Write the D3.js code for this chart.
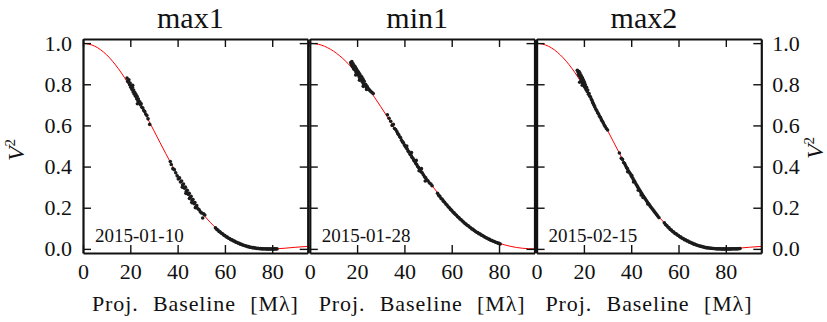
<!DOCTYPE html>
<html>
<head>
<meta charset="utf-8">
<script src="https://cdn.jsdelivr.net/npm/d3@7"></script>
<style>
  body { margin: 0; background: #fff; }
  svg text, svg tspan { font-family: "Liberation Serif", "Times New Roman", Tinos, Times, serif !important; }
</style>
</head>
<body>
<div class="container"></div>
<script>
// panel names and observation dates
let panelNames = ['max1', 'min1', 'max2'];
let obsDates = ['2015-01-10', '2015-01-28', '2015-02-15'];

let xTicks = [0, 20, 40, 60, 80];
let yTicks = [0.0, 0.2, 0.4, 0.6, 0.8, 1.0];

// model curves (red), read every 5 Mλ
let modelBaseline = [0, 5, 10, 15, 20, 25, 30, 35, 40, 45, 50, 55, 60, 65, 70, 75, 80, 85, 90, 95];
let modelMax1 = [1.0, 0.985, 0.943, 0.875, 0.787, 0.684, 0.574, 0.463, 0.357, 0.262, 0.180, 0.115, 0.065, 0.032, 0.011, 0.002, 0.000, 0.003, 0.008, 0.012];
let modelMin1 = [1.0, 0.990, 0.961, 0.914, 0.851, 0.776, 0.691, 0.602, 0.510, 0.420, 0.335, 0.258, 0.190, 0.133, 0.088, 0.053, 0.028, 0.012, 0.003, 0.000];
let modelMax2 = [1.0, 0.985, 0.943, 0.876, 0.788, 0.686, 0.576, 0.465, 0.358, 0.262, 0.180, 0.115, 0.065, 0.032, 0.011, 0.002, 0.000, 0.003, 0.008, 0.012];

// measured V^2 points [baseline, V2]
let obsMax1 = [
  [18.6,0.83],[18.9,0.815],[19.2,0.81],[19.4,0.822],[19.7,0.798],[19.9,0.806],[20.2,0.785],[20.4,0.795],
  [20.7,0.775],[20.9,0.785],[21.2,0.762],[21.4,0.772],[21.7,0.752],[21.9,0.76],[22.2,0.742],[22.4,0.75],
  [22.7,0.73],[22.9,0.74],[23.2,0.72],[23.4,0.728],[23.7,0.71],[24.0,0.715],[24.3,0.7],[24.6,0.705],
  [24.9,0.688],[25.3,0.685],[25.7,0.672],[26.1,0.668],[26.5,0.655],[27.0,0.648],[27.5,0.632],[28.2,0.605],
  [23.0,0.705],[21.0,0.795],
  [36.9,0.425],[37.3,0.41],[38.0,0.39],[38.6,0.385],[39.2,0.37],[39.8,0.355],[40.3,0.34],[40.8,0.345],
  [41.2,0.325],[41.7,0.33],[42.1,0.31],[42.5,0.315],[42.9,0.295],[43.3,0.30],[43.7,0.28],[44.1,0.285],
  [44.5,0.265],[44.9,0.27],[45.3,0.25],[45.7,0.255],[46.1,0.235],[46.5,0.24],[46.9,0.22],[47.3,0.225],
  [47.7,0.205],[48.1,0.21],[48.6,0.195],[49.1,0.19],[49.6,0.18],[50.1,0.175],[50.6,0.15],[51.0,0.17],
  [51.5,0.165],[44.0,0.27],[45.0,0.245],[42.0,0.30],[43.5,0.27],[46.0,0.225],[47.5,0.20],
  [56,0.103],[56.5,0.095],[57,0.092],[57.5,0.085],[58,0.082],[58.5,0.076],[59,0.073],[59.5,0.067],
  [60,0.065],[60.5,0.059],[61,0.057],[61.5,0.052],[62,0.05],[62.5,0.045],[63,0.044],[63.5,0.039],
  [64,0.038],[64.5,0.033],[65,0.032],[65.5,0.028],[66,0.027],[66.5,0.023],[67,0.022],[67.5,0.019],
  [68,0.018],[68.5,0.015],[69,0.014],[69.5,0.011],[70,0.011],[70.5,0.008],[71,0.008],[71.5,0.006],
  [72,0.006],[72.5,0.004],[73,0.004],[73.5,0.002],[74,0.003],[74.5,0.001],[75,0.002],[75.5,0.0],
  [76,0.001],[76.5,0.0],[77,0.001],[77.5,-0.001],[78,0.0],[78.5,-0.001],[79,0.0],[79.5,-0.001],
  [80,0.0],[80.5,-0.001],[81,0.0],[81.5,0.0],[82,0.0]
];

let obsMin1 = [
  [17.3,0.905],[17.6,0.895],[17.8,0.91],[18.0,0.885],[18.3,0.9],[18.5,0.875],[18.8,0.89],[19.0,0.87],
  [19.2,0.885],[19.5,0.86],[19.7,0.875],[19.9,0.85],[20.2,0.865],[20.4,0.845],[20.6,0.858],[20.9,0.835],
  [21.1,0.85],[21.3,0.828],[21.6,0.84],[21.8,0.82],[22.0,0.835],[22.3,0.81],[22.5,0.825],[22.8,0.80],
  [23.0,0.815],[23.3,0.795],[23.6,0.80],[23.9,0.785],[24.2,0.79],[24.6,0.78],[25.0,0.775],[25.4,0.77],
  [25.8,0.765],[26.3,0.76],[26.8,0.755],[21.0,0.82],[19.4,0.845],[22.6,0.79],[24.0,0.775],
  [32.8,0.652],[33.5,0.635],[34.2,0.62],[34.8,0.6],[35.3,0.605],[35.8,0.585],[36.3,0.58],[36.8,0.57],
  [37.2,0.56],[37.6,0.555],[38.0,0.545],[38.4,0.54],[38.8,0.528],[39.2,0.52],[39.6,0.515],[40.0,0.505],
  [40.4,0.498],[40.8,0.49],[41.2,0.485],[41.6,0.475],[42.0,0.47],[42.4,0.46],[42.8,0.455],[43.2,0.445],
  [43.6,0.44],[44.0,0.43],[44.4,0.425],[44.8,0.415],[45.2,0.41],[45.6,0.4],[46.0,0.395],[46.5,0.385],
  [47.0,0.375],[47.5,0.37],[48.0,0.36],[48.5,0.35],[49.0,0.345],[49.5,0.335],[50.0,0.33],[50.6,0.32],
  [51.2,0.315],[51.7,0.307],[41.0,0.5],[43.0,0.468],[45.0,0.43],[47.2,0.39],[46.2,0.38],[48.8,0.33],
  [54,0.27],[54.5,0.26],[55,0.255],[55.5,0.245],[56,0.241],[56.5,0.232],[57,0.227],[57.5,0.218],
  [58,0.213],[58.5,0.205],[59,0.2],[59.5,0.192],[60,0.187],[60.5,0.179],[61,0.175],[61.5,0.168],
  [62,0.163],[62.5,0.156],[63,0.152],[63.5,0.145],[64,0.141],[64.5,0.135],[65,0.131],[65.5,0.124],
  [66,0.121],[66.5,0.115],[67,0.112],[67.5,0.106],[68,0.103],[68.5,0.097],[69,0.095],[69.5,0.089],
  [70,0.086],[70.5,0.081],[71,0.079],[71.5,0.074],[72,0.072],[72.5,0.067],[73,0.065],[73.5,0.061],
  [74,0.058],[74.5,0.054],[75,0.052],[75.5,0.048],[76,0.046],[76.5,0.042],[77,0.041],[77.5,0.037],
  [78,0.036],[78.5,0.032],[79,0.031],[79.5,0.028],[80,0.027],[80.5,0.024]
];

let obsMax2 = [
  [17.2,0.868],[17.5,0.86],[17.7,0.848],[17.9,0.862],[18.1,0.84],[18.3,0.855],[18.5,0.832],[18.7,0.845],
  [18.9,0.82],[19.0,0.838],[19.2,0.812],[19.4,0.83],[19.6,0.805],[19.8,0.82],[20.0,0.795],[20.2,0.81],
  [20.4,0.785],[20.6,0.798],[20.9,0.775],[21.1,0.785],[21.4,0.765],[21.6,0.772],[21.9,0.752],[22.2,0.755],
  [22.5,0.742],[22.8,0.738],[23.1,0.728],[23.4,0.722],[23.7,0.712],[24.0,0.705],[24.3,0.698],[24.6,0.69],
  [25.0,0.68],[25.4,0.672],[25.8,0.662],[26.2,0.655],[26.6,0.645],[27.0,0.638],[27.4,0.628],[27.8,0.62],
  [28.2,0.612],[28.6,0.602],[29.0,0.595],[29.5,0.585],[30.0,0.578],[18.2,0.81],[19.3,0.795],
  [35.0,0.466],[35.8,0.44],[36.3,0.435],[36.8,0.42],[37.2,0.415],[37.6,0.405],[38.0,0.395],[38.4,0.39],
  [38.8,0.38],[39.2,0.372],[39.6,0.365],[40.0,0.355],[40.4,0.348],[40.8,0.34],[41.2,0.332],[41.6,0.325],
  [42.0,0.315],[42.4,0.308],[42.8,0.3],[43.2,0.292],[43.6,0.285],[44.0,0.277],[44.4,0.27],[44.8,0.262],
  [45.2,0.255],[45.6,0.248],[46.0,0.242],[46.4,0.235],[46.8,0.228],[47.2,0.222],[47.6,0.215],[48.0,0.208],
  [48.4,0.202],[48.8,0.196],[49.2,0.19],[49.6,0.184],[50.0,0.178],[50.4,0.172],[50.8,0.166],[51.2,0.16],
  [51.7,0.152],[41.0,0.325],[43.0,0.285],[45.0,0.25],[38.5,0.375],[47.0,0.218],[40.2,0.358],[44.2,0.262],
  [54,0.127],[54.5,0.118],[55,0.114],[55.5,0.106],[56,0.102],[56.5,0.094],[57,0.091],[57.5,0.084],
  [58,0.082],[58.5,0.075],[59,0.073],[59.5,0.067],[60,0.065],[60.5,0.059],[61,0.057],[61.5,0.052],
  [62,0.05],[62.5,0.045],[63,0.044],[63.5,0.039],[64,0.038],[64.5,0.033],[65,0.032],[65.5,0.028],
  [66,0.027],[66.5,0.023],[67,0.022],[67.5,0.019],[68,0.018],[68.5,0.015],[69,0.014],[69.5,0.012],
  [70,0.011],[70.5,0.009],[71,0.008],[71.5,0.006],[72,0.006],[72.5,0.004],[73,0.004],[73.5,0.003],
  [74,0.003],[74.5,0.002],[75,0.002],[75.5,0.001],[76,0.001],[76.5,0.0],[77,0.001],[77.5,0.0],
  [78,0.0],[78.5,-0.001],[79,0.0],[79.5,-0.001],[80,0.0],[80.5,-0.001],[81,0.0],[81.5,-0.001],
  [82,0.0],[82.5,0.0],[83,0.001],[83.5,0.0],[84,0.001],[84.5,0.0],[85,0.001],[85.5,0.001],[86,0.002]
];

let models = [modelMax1, modelMin1, modelMax2];
let observations = [obsMax1, obsMin1, obsMax2];

let width = 827;
let height = 322;
let panelLeft = 83;
let panelStep = 226.8;
let panelW = 224.7;
let plotTop = 39;
let plotH = 214;
let serifFace = '"Liberation Serif", "Times New Roman", Tinos, Times, serif';

let svg = d3
  .select('.container')
  .append('svg')
  .attr('width', width)
  .attr('height', height);

svg.append('style').text('text, tspan { font-family: ' + serifFace + '; }');

function serifText(sel, size) {
  return sel
    .style('font-family', serifFace)
    .attr('font-size', size)
    .attr('fill', '#111');
}

let yScale = d3.scaleLinear().domain([-0.02, 1.02]).range([plotTop + plotH, plotTop]);

panelNames.forEach((name, i) => {
  let x0 = panelLeft + i * panelStep;
  let xScale = d3.scaleLinear().domain([0, 95]).range([x0, x0 + panelW]);

  let clipId = 'clip' + i;
  svg.append('clipPath').attr('id', clipId)
    .append('rect')
    .attr('x', x0).attr('y', plotTop)
    .attr('width', panelW).attr('height', plotH);

  let g = svg.append('g').attr('clip-path', 'url(#' + clipId + ')');

  // model curve
  let line = d3.line()
    .x((d, k) => xScale(modelBaseline[k]))
    .y((d) => yScale(d))
    .curve(d3.curveMonotoneX);

  g.append('path')
    .datum(models[i])
    .attr('d', line)
    .attr('fill', 'none')
    .attr('stroke', '#ff0000')
    .attr('stroke-width', 1);

  // measured points
  g.append('g')
    .selectAll('circle')
    .data(observations[i])
    .enter()
    .append('circle')
    .attr('cx', (d) => xScale(d[0]))
    .attr('cy', (d) => yScale(d[1]))
    .attr('r', 1.8)
    .attr('fill', '#1c1c1c');

  // axes, ticks pointing inward
  let bottomAxis = d3.axisBottom(xScale).tickValues(xTicks).tickSizeInner(-8).tickSizeOuter(0).tickPadding(10);
  let topAxis = d3.axisTop(xScale).tickValues(xTicks).tickSizeInner(-8).tickSizeOuter(0).tickFormat('');
  let leftAxis = d3.axisLeft(yScale).tickValues(yTicks).tickSizeInner(-8).tickSizeOuter(0).tickPadding(11)
    .tickFormat(i === 0 ? d3.format('.1f') : '');
  let rightAxis = d3.axisRight(yScale).tickValues(yTicks).tickSizeInner(-8).tickSizeOuter(0).tickPadding(11)
    .tickFormat(i === 2 ? d3.format('.1f') : '');

  let axes = [
    [bottomAxis, 'translate(0,' + (plotTop + plotH) + ')'],
    [topAxis, 'translate(0,' + plotTop + ')'],
    [leftAxis, 'translate(' + x0 + ',0)'],
    [rightAxis, 'translate(' + (x0 + panelW) + ',0)']
  ];
  axes.forEach((a) => {
    let ax = svg.append('g').attr('transform', a[1]).call(a[0]);
    ax.attr('font-family', null);
    ax.select('.domain').attr('stroke', '#111').attr('stroke-width', 2.2);
    ax.selectAll('.tick line').attr('stroke', '#111').attr('stroke-width', 1.4);
    serifText(ax.selectAll('.tick text'), 22);
  });

  // title
  serifText(svg.append('text'), 30)
    .attr('x', x0 + panelW / 2 - 5)
    .attr('y', 28)
    .attr('text-anchor', 'middle')
    .text(name);

  // date label
  serifText(svg.append('text'), 19)
    .attr('x', x0 + 12)
    .attr('y', 242)
    .text(obsDates[i]);

  // x axis label
  serifText(svg.append('text'), 22)
    .attr('x', x0 + panelW / 2)
    .attr('y', 311)
    .attr('text-anchor', 'middle')
    .attr('word-spacing', 8)
    .attr('letter-spacing', 0.9)
    .text('Proj. Baseline [Mλ]');
});

// y axis labels, left and right
[[24, 150], [823, 148]].forEach((p) => {
  let t = serifText(svg.append('text'), 24)
    .attr('transform', 'translate(' + p[0] + ',' + p[1] + ') rotate(-90)')
    .attr('text-anchor', 'middle');
  t.append('tspan').attr('font-style', 'italic').text('V');
  t.append('tspan').attr('dy', -9).attr('font-size', 15).text('2');
});
</script>
</body>
</html>
